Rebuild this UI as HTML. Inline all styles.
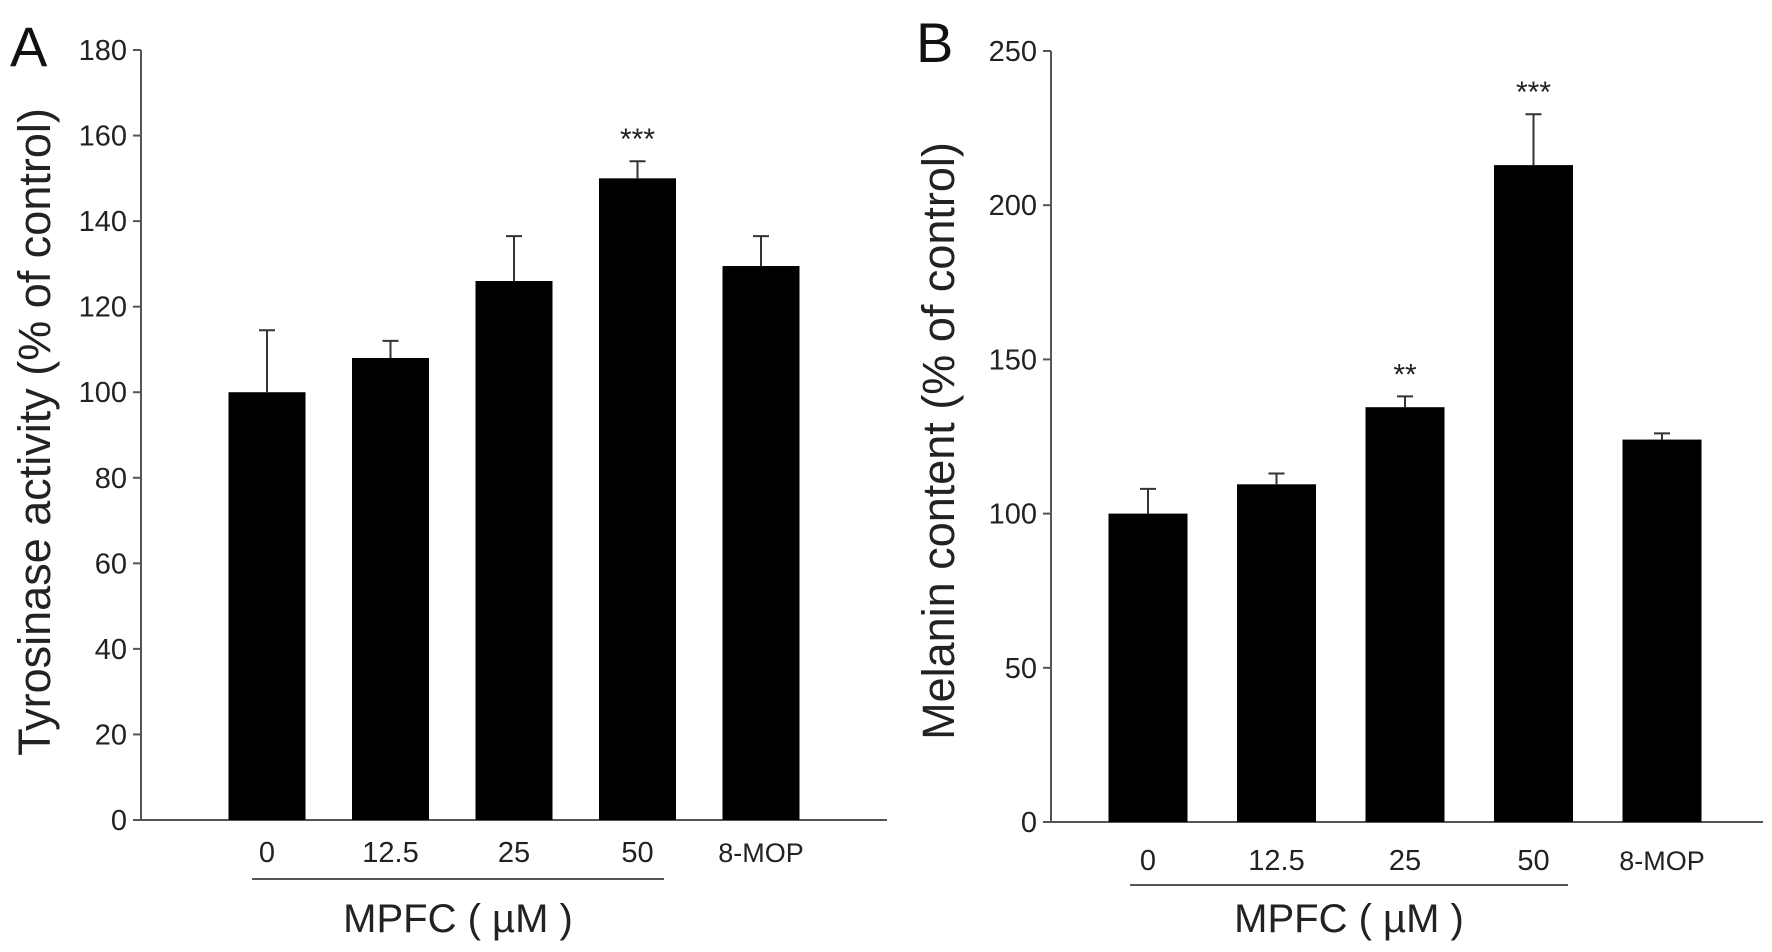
<!DOCTYPE html>
<html><head><meta charset="utf-8"><style>
html,body{margin:0;padding:0;background:#fff;}
svg{display:block;font-family:"Liberation Sans",Arial,sans-serif;}
</style></head><body>
<svg id="fig" width="1772" height="952" viewBox="0 0 1772 952"></svg>
<script>
const categories = ["0","12.5","25","50","8-MOP"];
const valuesA = [100,108,126,150,129.5];
const errorsA = [14.5,4,10.5,4,7];
const sigA = ["","","","***",""];
const ticksA = [0,20,40,60,80,100,120,140,160,180];
const valuesB = [100,109.5,134.5,213,124];
const errorsB = [8,3.5,3.5,16.5,2];
const sigB = ["","","**","***",""];
const ticksB = [0,50,100,150,200,250];

const NS="http://www.w3.org/2000/svg";
const svg=document.getElementById('fig');
function mk(tag,attrs,parent,text){const e=document.createElementNS(NS,tag);for(const k in attrs)e.setAttribute(k,attrs[k]);if(text!==undefined)e.textContent=text;(parent||svg).appendChild(e);return e;}

function panel(cfg){
  const g=mk('g',{});
  
  
  const y=v=>cfg.y0-(v-0)/cfg.ymax*(cfg.y0-cfg.yTop);
  const n=categories.length;
  const step=(cfg.x1-cfg.xFirst)/(n-1);
  const xc=i=>cfg.xFirst+i*step;
  const ya=mk('line',{x1:cfg.ax,y1:cfg.yTop,x2:cfg.ax,y2:cfg.y0,stroke:'#555','stroke-width':2},g);
  
  const xa=mk('line',{x1:cfg.ax,y1:cfg.y0,x2:cfg.axEnd,y2:cfg.y0,stroke:'#555','stroke-width':2},g);
  
  cfg.ticks.forEach(t=>{
    const l=mk('line',{x1:cfg.ax-8,y1:y(t),x2:cfg.ax,y2:y(t),stroke:'#555','stroke-width':2},g);
    
    const tx=mk('text',{x:cfg.ax-14,y:y(t)+10,'text-anchor':'end','font-size':29,fill:'#222'},g,String(t));
    
  });
  cfg.values.forEach((v,i)=>{
    const cx=xc(i);
    const b=mk('rect',{x:cx-cfg.bw/2,y:y(v),width:cfg.bw,height:cfg.y0-y(v),fill:'#000'},g);
    
    const e=cfg.errors[i];
    const el=mk('path',{d:`M${cx},${y(v)} V${y(v+e)} M${cx-8},${y(v+e)} H${cx+8}`,stroke:'#333','stroke-width':2,fill:'none'},g);
    
    if(cfg.sig[i]){
      const s=mk('text',{x:cx,y:y(v+e)-12,'text-anchor':'middle','font-size':30,fill:'#222'},g,cfg.sig[i]);
      
    }
    const lb=mk('text',{x:cx,y:cfg.labY,'text-anchor':'middle','font-size':i==n-1?27:29,fill:'#222'},g,categories[i]);
    
  });
  const ul=mk('line',{x1:cfg.ulX1,y1:cfg.ulY,x2:cfg.ulX2,y2:cfg.ulY,stroke:'#555','stroke-width':2},g);
  
  const xt=mk('text',{x:(cfg.ulX1+cfg.ulX2)/2,y:932,'text-anchor':'middle','font-size':40,fill:'#222'},g,'MPFC ( µM )');
  
  const yt=mk('text',{x:0,y:0,'text-anchor':'middle','font-size':45,fill:'#222',transform:`translate(${cfg.titleX},${cfg.titleY}) rotate(-90)`},g,cfg.title);
  
  const pl=mk('text',{x:cfg.letterX,y:cfg.letterY,'font-size':56,fill:'#111'},g,cfg.letter);
  
}
panel({name:'panel-a',values:valuesA,errors:errorsA,sig:sigA,ticks:ticksA,ymax:180,yTop:50,y0:820,ax:141,axEnd:887,xFirst:267,x1:761,bw:77,labY:862,ulX1:252,ulX2:664,ulY:879,titleX:50,titleY:432,title:'Tyrosinase activity (% of control)',letter:'A',letterX:10,letterY:66});
panel({name:'panel-b',values:valuesB,errors:errorsB,sig:sigB,ticks:ticksB,ymax:250,yTop:51,y0:822,ax:1051,axEnd:1763,xFirst:1148,x1:1662,bw:79,labY:870,ulX1:1130,ulX2:1568,ulY:885,titleX:954,titleY:441,title:'Melanin content (% of control)',letter:'B',letterX:916,letterY:62});
</script>
</body></html>
